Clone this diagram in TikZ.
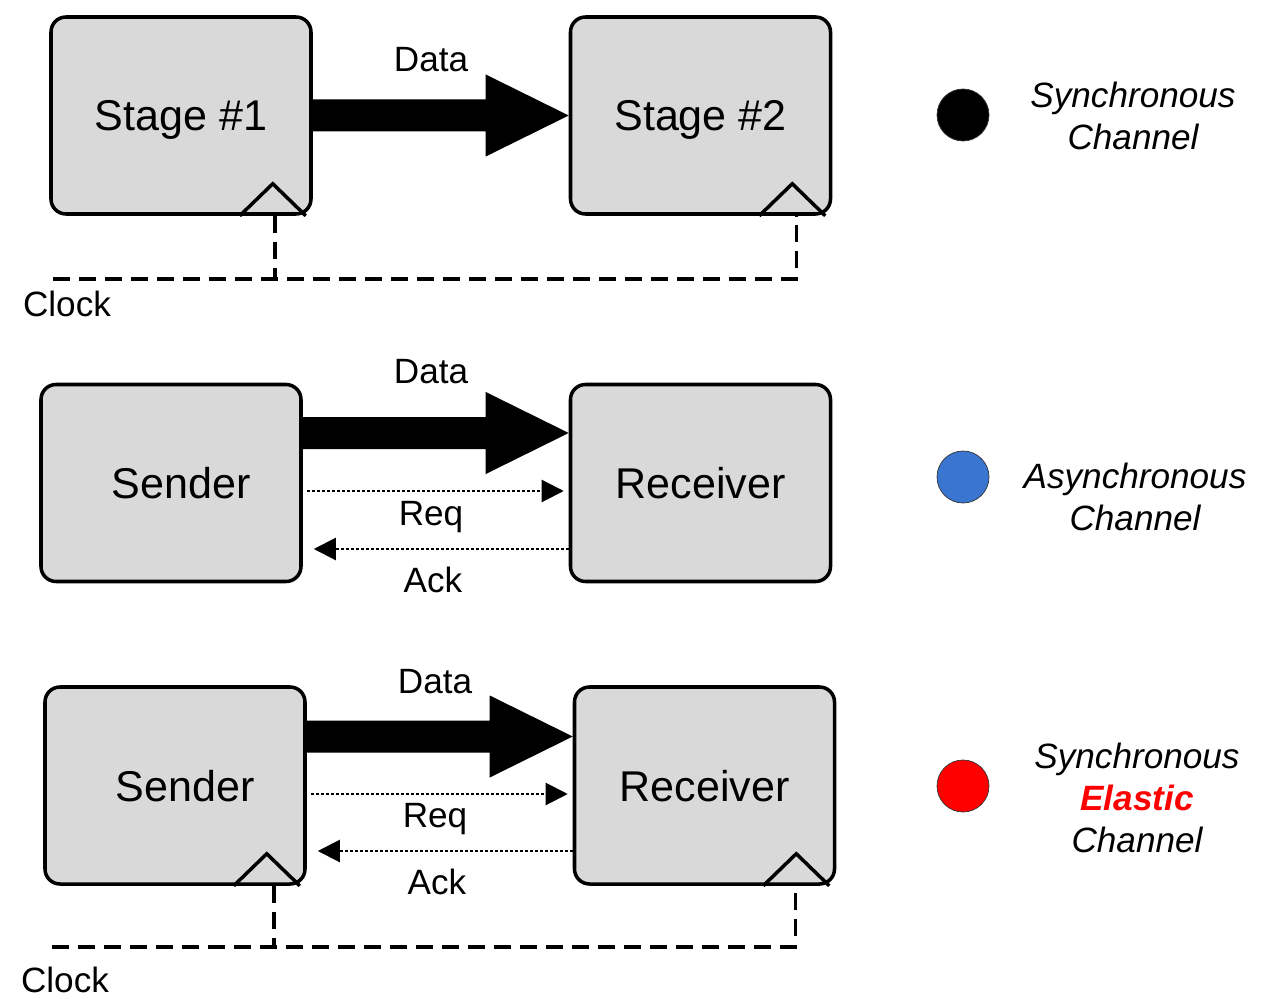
\documentclass[tikz,border=0pt]{standalone}
\usepackage{fontspec}
\setmainfont{Liberation Sans}
\usetikzlibrary{arrows.meta,calc,positioning}

\definecolor{boxgray}{RGB}{217,217,217}
\definecolor{asyncblue}{RGB}{58,118,207}

\tikzset{
  stagebox/.style={draw, line width=2pt, rounded corners=3mm, fill=boxgray,
    minimum width=52mm, minimum height=39.4mm, text depth=0pt,
    font=\fontsize{24.5}{28}\selectfont},
  clockline/.style={line width=2pt, dash pattern=on 3.4mm off 1.8mm},
  hsline/.style={line width=1.2pt, dash pattern=on 0.6mm off 0.4mm,
    -{Triangle[length=4.4mm,width=4.4mm]}},
  lbl/.style={font=\fontsize{20}{24}\selectfont},
  legdot/.style={circle, minimum size=10.4mm, inner sep=0pt, draw=black!80, line width=0.4pt},
  legtext/.style={align=center, font=\fontsize{20}{24}\selectfont\itshape},
}

% fat data arrow: from, to, offset of its centre line
\newcommand{\dataarrow}[3]{%
  \fill ($(#1.east)+(0,#3-16)$) -- ($(#2.west)+(-83,#3-16)$) -- ($(#2.west)+(-83,#3-41)$)
    -- ($(#2.west)+(0,#3)$) -- ($(#2.west)+(-83,#3+41)$) -- ($(#2.west)+(-83,#3+16)$)
    -- ($(#1.east)+(0,#3+16)$) -- cycle;}
% clock input triangle on the bottom edge
\newcommand{\clocktick}[1]{%
  \draw[line width=2pt] ($(#1.south east)+(-73,0)$) -- ++(33,-32) -- ++(33,32);}

\begin{document}
\begin{tikzpicture}[x=0.2mm, y=-0.2mm]
    \useasboundingbox (0,0) rectangle (1279,999);

    % Synchronous
    \node[stagebox] (st1) at (181,115.5) {Stage \#1};
    \node[stagebox] (st2) at (700.5,115.5) {Stage \#2};
    \dataarrow{st1}{st2}{0}
    \node[lbl] at (431,60) {Data};
    \clocktick{st1}
    \clocktick{st2}

    \coordinate (clk1) at (53,279);
    \coordinate (tk1) at ($(st1.south east)+(-38,0)$);
    \coordinate (tk2) at ($(st2.south east)+(-36,0)$);
    \draw[clockline] (clk1) -| (tk2);
    \draw[clockline] (tk1) -- (tk1 |- clk1);
    \node[lbl] at (67,304) {Clock};

    % Asynchronous
    \node[stagebox] (snd2) at (171,483) {\hspace*{4mm}Sender};
    \node[stagebox] (rcv2) at (700.5,483) {Receiver};
    \dataarrow{snd2}{rcv2}{-50}
    \node[lbl] at (431,372) {Data};
    \draw[hsline, shorten <=0.8mm, shorten >=1mm] ($(snd2.east)+(0,8)$) -- ($(rcv2.west)+(0,8)$);
    \draw[hsline, shorten >=2.2mm] ($(rcv2.west)+(0,66)$) -- ($(snd2.east)+(0,66)$);
    \node[lbl] at (431,517) {Req};
    \node[lbl] at (433,580) {Ack};

    % Synchronous elastic
    \node[stagebox] (snd3) at (175,785.5) {\hspace*{4mm}Sender};
    \node[stagebox] (rcv3) at (704.5,785.5) {Receiver};
    \dataarrow{snd3}{rcv3}{-49}
    \node[lbl] at (435,682) {Data};
    \draw[hsline, shorten <=0.8mm, shorten >=1mm] ($(snd3.east)+(0,8.5)$) -- ($(rcv3.west)+(0,8.5)$);
    \draw[hsline, shorten >=2.2mm] ($(rcv3.west)+(0,65.5)$) -- ($(snd3.east)+(0,65.5)$);
    \node[lbl] at (435,819) {Req};
    \node[lbl] at (437,882) {Ack};
    \clocktick{snd3}
    \clocktick{rcv3}

    \coordinate (clk3) at (52,947);
    \coordinate (tk3) at ($(snd3.south east)+(-33,0)$);
    \coordinate (tk4) at ($(rcv3.south east)+(-41,0)$);
    \draw[clockline] (clk3) -| (tk4);
    \draw[clockline] (tk3) -- (tk3 |- clk3);
    \node[lbl] at (65,980) {Clock};

    % Legend
    \node[legdot, fill=black] (dsync) at (963,115) {};
    \node[legtext] (tsync) at (1133,116) {Synchronous\\Channel};
    \node[legdot, fill=asyncblue] (dasync) at (963,477) {};
    \node[legtext] (tasync) at (1135,497) {Asynchronous\\Channel};
    \node[legdot, fill=red] (delast) at (963,786) {};
    \node[legtext] (telast) at (1137,798) {Synchronous\\{\color{red}\bfseries Elastic}\\Channel};
\end{tikzpicture}
\end{document}
